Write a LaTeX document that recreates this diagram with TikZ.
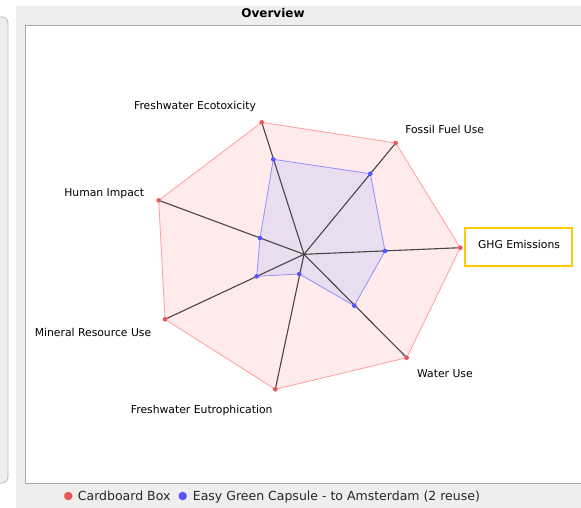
\documentclass[tikz,border=0pt]{standalone}
\usepackage{fontspec}
\setmainfont{DejaVu Sans}
\begin{document}
\begin{tikzpicture}[x=1pt,y=-1pt,
  axis/.style={draw=axisgray,line width=1.1pt},
  lbl/.style={font=\fontsize{10.8}{12}\selectfont,text=black,inner sep=0pt,anchor=base},
  rdot/.style={circle,fill=dotred,inner sep=0pt,minimum size=4.6pt},
  bdot/.style={circle,fill=dotblue,inner sep=0pt,minimum size=4.6pt},
  legtxt/.style={font=\fontsize{12.5}{14}\selectfont,text=black!85,inner sep=0pt,anchor=base west}]
\definecolor{panelgray}{HTML}{EEEEEE}
\definecolor{framegray}{HTML}{A8A8A8}
\definecolor{axisgray}{HTML}{4A4444}
\definecolor{redfill}{HTML}{FFEBEB}
\definecolor{redline}{HTML}{FF9E9E}
\definecolor{dotred}{HTML}{EE5555}
\definecolor{bluefill}{HTML}{E9DEF0}
\definecolor{blueline}{HTML}{8F8FFF}
\definecolor{dotblue}{HTML}{5555FF}
\definecolor{gold}{HTML}{FFC800}

\useasboundingbox (0,0) rectangle (581,507);
\clip (0,0) rectangle (581,507);

% neighbouring panel on the left
\draw[fill=panelgray,draw=framegray!80,line width=0.8pt,rounded corners=6pt]
  (-20,17) rectangle (8,483);

% chart panel and plot area
\fill[panelgray] (16,6) rectangle (590,520);
\draw[fill=white,draw=framegray,line width=1pt] (25,25) rectangle (600,483);
\node[font=\bfseries\fontsize{12}{14}\selectfont,inner sep=0pt] (title) at (273,13.5) {Overview};

% centre of the radar
\coordinate (c) at (304,254.3);

% Cardboard Box values
\coordinate (r1) at (261.7,122.3);
\coordinate (r2) at (395.7,143);
\coordinate (r3) at (460.3,247.7);
\coordinate (r4) at (406.7,357.7);
\coordinate (r5) at (275.3,389.3);
\coordinate (r6) at (165,319.3);
\coordinate (r7) at (158.7,200.3);

% Easy Green Capsule values
\coordinate (b1) at (273.3,159.3);
\coordinate (b2) at (370.3,173.7);
\coordinate (b3) at (385,251);
\coordinate (b4) at (354.3,305.7);
\coordinate (b5) at (299.3,274);
\coordinate (b6) at (256.7,276.3);
\coordinate (b7) at (260,238);

% series polygons
\filldraw[fill=redfill,draw=redline,line width=0.8pt]
  (r1) -- (r2) -- (r3) -- (r4) -- (r5) -- (r6) -- (r7) -- cycle;
\filldraw[fill=bluefill,draw=blueline,line width=0.8pt]
  (b1) -- (b2) -- (b3) -- (b4) -- (b5) -- (b6) -- (b7) -- cycle;

% axes
\foreach \i in {1,...,7} { \draw[axis] (c) -- (r\i); }

% data points
\foreach \i in {1,...,7} {
  \node[rdot] (rp\i) at (r\i) {};
  \node[bdot] (bp\i) at (b\i) {};
}

% axis labels
\node[lbl] (l1) at (195,109.5) {Freshwater Ecotoxicity};
\node[lbl] (l2) at (444.7,133) {Fossil Fuel Use};
\node[draw=gold,line width=2pt,minimum width=107pt,minimum height=38pt,inner sep=0pt] (l3box) at (518,246.7) {};
\node[lbl] (l3) at (519,248) {GHG Emissions};
\node[lbl] (l4) at (445,377.5) {Water Use};
\node[lbl] (l5) at (201.7,413) {Freshwater Eutrophication};
\node[lbl] (l6) at (93,336) {Mineral Resource Use};
\node[lbl] (l7) at (104.2,196) {Human Impact};

% legend
\node[rdot,minimum size=8.5pt] (leg1) at (68.3,496) {};
\node[legtxt] (legt1) at (77.7,500.5) {Cardboard Box};
\node[bdot,minimum size=8.5pt] (leg2) at (182.7,496) {};
\node[legtxt] (legt2) at (192.7,500.5) {Easy Green Capsule - to Amsterdam (2 reuse)};
\end{tikzpicture}
\end{document}
